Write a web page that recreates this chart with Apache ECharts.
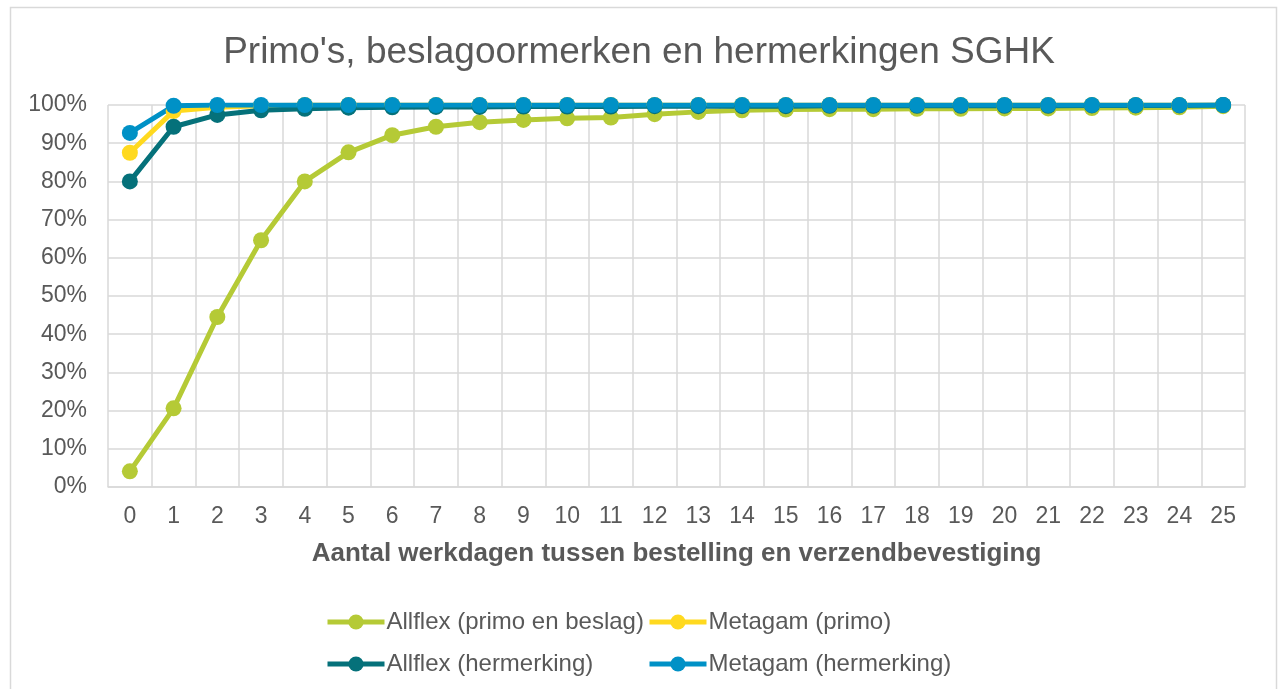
<!DOCTYPE html>
<html>
<head>
<meta charset="utf-8">
<title>Primo's, beslagoormerken en hermerkingen SGHK</title>
<script src="https://cdn.jsdelivr.net/npm/echarts@6/dist/echarts.min.js"></script>
<style>
  html, body { margin: 0; padding: 0; background: #fff; }
  #chart { width: 1278px; height: 689px; }
</style>
</head>
<body>
<div id="chart"></div>
<script>
// werkdagen 0..25
var days = ['0', '1', '2', '3', '4', '5', '6', '7', '8', '9', '10', '11', '12', '13', '14', '15', '16', '17', '18', '19', '20', '21', '22', '23', '24', '25']

// cumulatief percentage verzonden
var allflexPrimo = [4.1, 20.6, 44.5, 64.6, 80.0, 87.6, 92.1, 94.3, 95.5, 96.1, 96.5, 96.7, 97.6, 98.2, 98.6, 98.8, 98.9, 98.9, 99.0, 99.0, 99.1, 99.1, 99.2, 99.3, 99.4, 99.7]
var metagamPrimo = [87.5, 98.4, 99.4, 99.8, 100, 100, 100, 100, 100, 100, 100, 100, 100, 100, 100, 100, 100, 100, 100, 100, 100, 100, 100, 100, 100, 100]
var allflexHerm = [80.0, 94.3, 97.4, 98.6, 99.0, 99.3, 99.4, 99.5, 99.5, 99.6, 99.6, 99.6, 99.7, 99.7, 99.7, 99.7, 99.8, 99.8, 99.8, 99.8, 99.8, 99.8, 99.9, 99.9, 99.9, 100]
var metagamHerm = [92.7, 99.8, 100, 100, 100, 100, 100, 100, 100, 100, 100, 100, 100, 100, 100, 100, 100, 100, 100, 100, 100, 100, 100, 100, 100, 100]

var yTicks = { min: 0, max: 100, interval: 10 }

var FONT = "'Liberation Sans', Arial, sans-serif"
var TEXT = '#595959'
var GRID = '#D9D9D9'

function lineSeries(name, data, color) {
  return {
    name: name,
    type: 'line',
    data: data,
    symbol: 'circle',
    symbolSize: 16,
    lineStyle: { color: color, width: 5 },
    itemStyle: { color: color },
    emphasis: { disabled: true }
  }
}

function legendCol(left, names) {
  return {
    orient: 'vertical',
    left: left,
    top: 605,
    itemWidth: 57,
    itemHeight: 19,
    itemGap: 18,
    lineStyle: { width: 5 },
    textStyle: { fontFamily: FONT, fontSize: 24, color: TEXT, padding: [0, 0, 0, -3] },
    data: names
  }
}

var chart = echarts.init(document.getElementById('chart'))
var option = {
  animation: false,
  textStyle: { fontFamily: FONT },
  graphic: [
    {
      type: 'rect',
      shape: { x: 10.5, y: 7.5, width: 1266, height: 700 },
      style: { fill: 'none', stroke: GRID, lineWidth: 1.5 },
      silent: true
    }
  ],
  title: {
    text: "Primo's, beslagoormerken en hermerkingen SGHK",
    left: 'center',
    top: 29,
    textStyle: { fontFamily: FONT, fontSize: 37, fontWeight: 'normal', color: TEXT }
  },
  legend: [
    legendCol(320, ['Allflex (primo en beslag)', 'Allflex (hermerking)']),
    legendCol(642, ['Metagam (primo)', 'Metagam (hermerking)'])
  ],
  grid: {
    left: 108,
    right: 33,
    top: 105,
    bottom: 202,
    containLabel: false
  },
  xAxis: {
    type: 'category',
    data: days,
    boundaryGap: true,
    name: 'Aantal werkdagen tussen bestelling en verzendbevestiging',
    nameLocation: 'middle',
    nameGap: 54,
    nameTextStyle: { fontFamily: FONT, fontSize: 26, fontWeight: 'bold', color: TEXT },
    axisLine: { lineStyle: { color: GRID, width: 1.5 } },
    axisTick: { show: false },
    axisLabel: { fontFamily: FONT, fontSize: 23, color: TEXT, margin: 18, interval: 0 },
    splitLine: { show: true, interval: 0, lineStyle: { color: GRID, width: 1.5 } }
  },
  yAxis: {
    type: 'value',
    min: yTicks.min,
    max: yTicks.max,
    interval: yTicks.interval,
    axisLine: { show: false },
    axisTick: { show: false },
    axisLabel: { fontFamily: FONT, fontSize: 23, color: TEXT, margin: 21, formatter: '{value}%' },
    splitLine: { lineStyle: { color: GRID, width: 1.5 } }
  },
  series: [
    lineSeries('Allflex (primo en beslag)', allflexPrimo, '#B5CA36'),
    lineSeries('Metagam (primo)', metagamPrimo, '#FFD91F'),
    lineSeries('Allflex (hermerking)', allflexHerm, '#05717A'),
    lineSeries('Metagam (hermerking)', metagamHerm, '#0091C6')
  ]
}
chart.setOption(option)
</script>
</body>
</html>
